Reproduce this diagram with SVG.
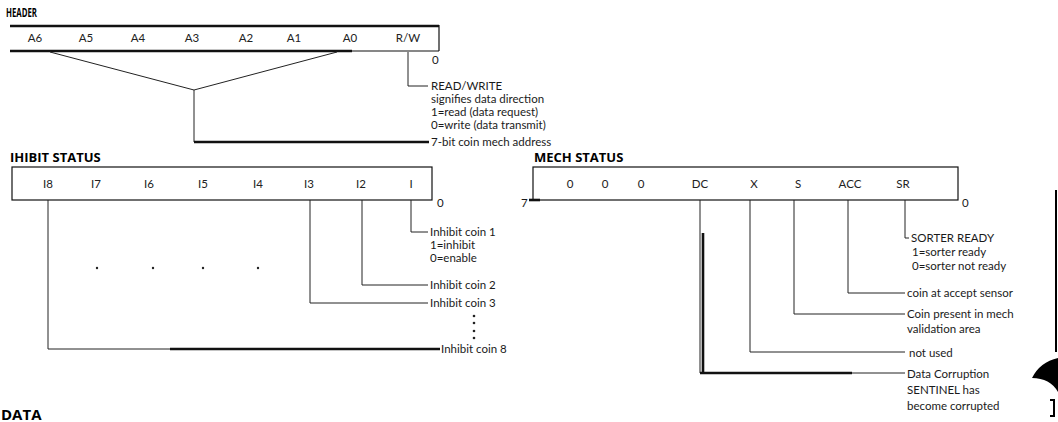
<svg xmlns="http://www.w3.org/2000/svg" width="1058" height="422" viewBox="0 0 1058 422">
<style>
.bg{fill:#fff}
.box{fill:none;stroke:#111;stroke-width:1.2}
.heavy{fill:none;stroke:#111;stroke-width:2.6}
.ln{fill:none;stroke:#222;stroke-width:1}
.txt{font-family:Lato,"Liberation Sans",sans-serif;font-size:11.5px;fill:#1a1a1a}
.bit{font-family:Lato,"Liberation Sans",sans-serif;font-size:11.5px;fill:#222;text-anchor:middle}
.title{font-family:"Open Sans","Liberation Sans",sans-serif;font-size:13px;font-weight:bold;fill:#000}
.dot{fill:#222}
</style>
<rect class="bg" x="0" y="0" width="1058" height="422"/>

<g id="header">
  <text class="title" x="6" y="17" textLength="31" lengthAdjust="spacingAndGlyphs" font-size="10">HEADER</text>
  <line class="heavy" x1="10" y1="26" x2="439" y2="26"/>
  <line class="box" x1="439" y1="25" x2="439" y2="51"/>
  <line class="heavy" x1="10" y1="51" x2="352" y2="51"/>
  <line class="box" x1="352" y1="51" x2="439" y2="51"/>
  <text class="bit" x="35" y="42">A6</text>
  <text class="bit" x="86" y="42">A5</text>
  <text class="bit" x="138" y="42">A4</text>
  <text class="bit" x="192" y="42">A3</text>
  <text class="bit" x="246" y="42">A2</text>
  <text class="bit" x="294" y="42">A1</text>
  <text class="bit" x="350" y="42">A0</text>
  <text class="bit" x="408" y="42">R/W</text>
  <text class="txt" x="432" y="64">0</text>
</g>

<g id="inhibit-status">
  <text class="title" x="10" y="162">IHIBIT STATUS</text>
  <rect class="box" x="12" y="167" width="420" height="33"/>
  <text class="bit" x="48" y="188">I8</text>
  <text class="bit" x="96" y="188">I7</text>
  <text class="bit" x="149" y="188">I6</text>
  <text class="bit" x="203" y="188">I5</text>
  <text class="bit" x="258" y="188">I4</text>
  <text class="bit" x="309" y="188">I3</text>
  <text class="bit" x="361" y="188">I2</text>
  <text class="bit" x="411" y="188">I</text>
  <text class="txt" x="437" y="207">0</text>
  <circle class="dot" cx="97" cy="268" r="1.2"/>
  <circle class="dot" cx="153" cy="268" r="1.2"/>
  <circle class="dot" cx="203" cy="268" r="1.2"/>
  <circle class="dot" cx="258" cy="268" r="1.2"/>
</g>

<g id="mech-status">
  <text class="title" x="534" y="162">MECH STATUS</text>
  <rect class="box" x="533" y="167" width="425" height="33"/>
  <line class="heavy" x1="529" y1="200" x2="540" y2="200"/>
  <text class="bit" x="570" y="188">0</text>
  <text class="bit" x="605" y="188">0</text>
  <text class="bit" x="641" y="188">0</text>
  <text class="bit" x="700" y="188">DC</text>
  <text class="bit" x="754" y="188">X</text>
  <text class="bit" x="798" y="188">S</text>
  <text class="bit" x="850" y="188">ACC</text>
  <text class="bit" x="903" y="188">SR</text>
  <text class="txt" x="521" y="207">7</text>
  <text class="txt" x="962" y="207">0</text>
</g>

<g id="labels">
  <text class="txt" x="431" y="90">READ/WRITE</text>
  <text class="txt" x="431" y="103">signifies data direction</text>
  <text class="txt" x="431" y="116">1=read (data request)</text>
  <text class="txt" x="431" y="129">0=write (data transmit)</text>
  <text class="txt" x="431" y="146">7-bit coin mech address</text>

  <text class="txt" x="430" y="236">Inhibit coin 1</text>
  <text class="txt" x="430" y="249">1=inhibit</text>
  <text class="txt" x="430" y="262">0=enable</text>
  <text class="txt" x="430" y="289">Inhibit coin 2</text>
  <text class="txt" x="430" y="307">Inhibit coin 3</text>
  <text class="txt" x="441" y="353">Inhibit coin 8</text>

  <text class="txt" x="911" y="242">SORTER READY</text>
  <text class="txt" x="912" y="256">1=sorter ready</text>
  <text class="txt" x="912" y="270">0=sorter not ready</text>
  <text class="txt" x="907" y="297">coin at accept sensor</text>
  <text class="txt" x="907" y="318">Coin present in mech</text>
  <text class="txt" x="907" y="333">validation area</text>
  <text class="txt" x="909" y="357">not used</text>
  <text class="txt" x="907" y="378">Data Corruption</text>
  <text class="txt" x="907" y="394">SENTINEL has</text>
  <text class="txt" x="907" y="410">become corrupted</text>

  <text x="1" y="420" font-family="'Open Sans','Liberation Sans',sans-serif" font-size="15" font-weight="bold" fill="#000">DATA</text>
</g>

<g id="connectors">
  <polyline class="ln" points="50,52 194,90 337,52"/>
  <line class="ln" x1="194" y1="90" x2="194" y2="142"/>
  <line class="heavy" x1="194" y1="142" x2="429" y2="142" stroke-width="2"/>
  <polyline class="ln" points="408,52 408,86 428,86"/>

  <polyline class="ln" points="411,200 411,232 428,232"/>
  <polyline class="ln" points="362,200 362,285 428,285"/>
  <polyline class="ln" points="310,200 310,303 428,303"/>
  <polyline class="ln" points="48,200 48,349 170,349"/>
  <line class="heavy" x1="170" y1="349" x2="440" y2="349"/>
  <circle class="dot" cx="474" cy="316" r="1.3"/>
  <circle class="dot" cx="474" cy="323" r="1.3"/>
  <circle class="dot" cx="474" cy="331" r="1.3"/>
  <circle class="dot" cx="474" cy="338" r="1.3"/>

  <polyline class="ln" points="905,200 905,238 909,238"/>
  <polyline class="ln" points="848,200 848,293 905,293"/>
  <polyline class="ln" points="794,200 794,314 905,314"/>
  <polyline class="ln" points="750,200 750,352 905,352"/>
  <polyline class="ln" points="700,200 700,373 905,373"/>
  <line class="heavy" x1="703" y1="233" x2="703" y2="373"/>
  <line class="heavy" x1="700" y1="373" x2="852" y2="373"/>
</g>

<g id="scan-edge">
  <line x1="1056" y1="190" x2="1056" y2="352" stroke="#000" stroke-width="2"/>
  <path d="M1032,378 Q1040,362 1058,358 L1058,392 Q1050,378 1032,378 Z" fill="#000"/>
  <path d="M1050,400 L1054,400 L1054,416 L1050,416" fill="none" stroke="#000" stroke-width="2"/>
</g>
</svg>
